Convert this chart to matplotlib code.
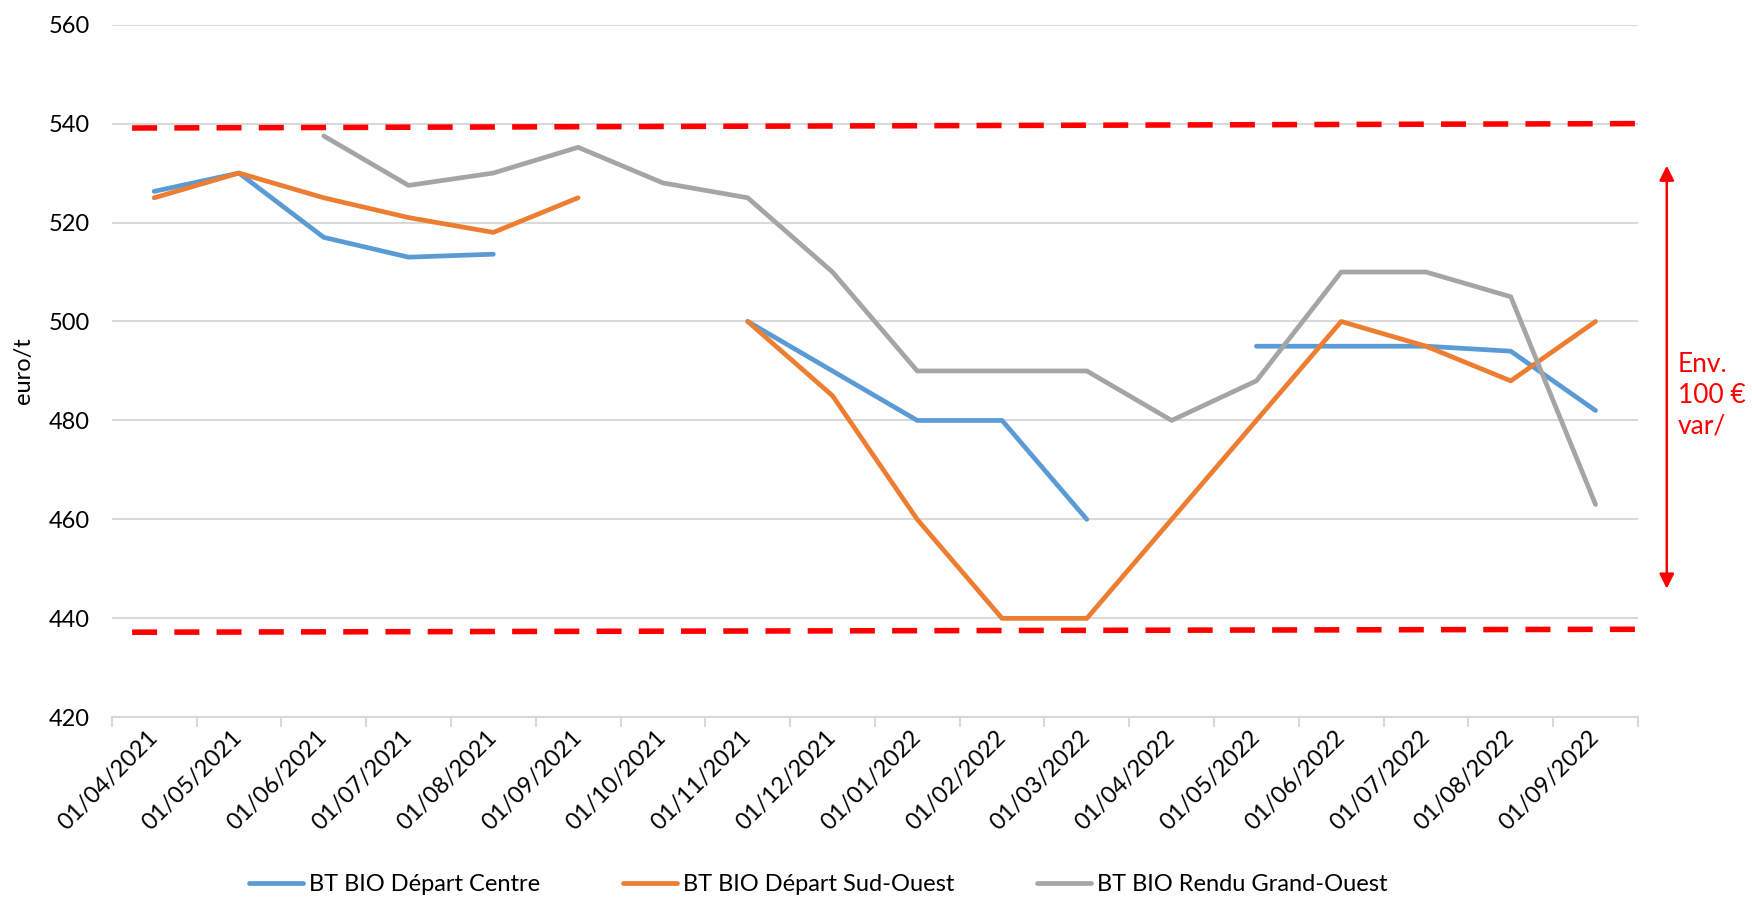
import matplotlib
matplotlib.use('Agg')
import matplotlib.pyplot as plt
import numpy as np

nan = np.nan

months = ['01/04/2021', '01/05/2021', '01/06/2021', '01/07/2021', '01/08/2021', '01/09/2021',
          '01/10/2021', '01/11/2021', '01/12/2021', '01/01/2022', '01/02/2022', '01/03/2022',
          '01/04/2022', '01/05/2022', '01/06/2022', '01/07/2022', '01/08/2022', '01/09/2022']

depart_centre = [526.3, 530, 517, 513, 513.6, nan,
                 nan, 500, 490, 480, 480, 460,
                 nan, 495, 495, 495, 494, 482]
depart_sud_ouest = [525, 530, 525, 521, 518, 525,
                    nan, 500, 485, 460, 440, 440,
                    460, 480, 500, 495, 488, 500]
rendu_grand_ouest = [nan, nan, 537.5, 527.5, 530, 535.2,
                     528, 525, 510, 490, 490, 490,
                     480, 488, 510, 510, 505, 463]

series_names = ['BT BIO Départ Centre', 'BT BIO Départ Sud-Ouest', 'BT BIO Rendu Grand-Ouest']
series_colors = ['#5B9BD5', '#ED7D31', '#A5A5A5']

# red dashed envelope lines (value at left end, value at right end)
band_upper = [539.1, 540.0]
band_lower = [437.2, 437.8]
band_x = [-0.26, 17.63]
arrow_span = [531.5, 446.0]

plt.rcParams['font.family'] = ['Lato', 'DejaVu Sans']
fs = 17

fig = plt.figure(figsize=(17.52, 8.98), dpi=100)
ax = fig.add_axes([0.0638, 0.2012, 0.8711, 0.7714])

x = np.arange(len(months))
for vals, name, col in zip([depart_centre, depart_sud_ouest, rendu_grand_ouest], series_names, series_colors):
    ax.plot(x, vals, color=col, linewidth=3.4, label=name, solid_capstyle='round', solid_joinstyle='round')

for band in (band_upper, band_lower):
    ax.plot(band_x, band, color='#FF0000', linewidth=4, linestyle=(0, (4.5, 3.1)), clip_on=False)

ax.annotate('', xy=(17.84, arrow_span[0]), xytext=(17.84, arrow_span[1]),
            arrowprops=dict(arrowstyle='<|-|>', color='#FF0000', lw=1.8,
                            mutation_scale=22, shrinkA=0, shrinkB=0),
            annotation_clip=False)
ax.text(1.026, 0.465, 'Env.\n100 €\nvar/', transform=ax.transAxes, color='#FF0000',
        fontsize=19, ha='left', va='center', linespacing=1.3)

ax.set_xlim(-0.5, len(months) - 0.5)
ax.set_ylim(420, 560)
ax.set_yticks(np.arange(420, 561, 20))
ax.grid(axis='y', color='#D9D9D9', linewidth=1.5)
ax.set_axisbelow(True)

ax.set_xticks(x)
ax.set_xticklabels(months, rotation=45, ha='right', va='center', rotation_mode='anchor')
ax.set_xticks(np.arange(-0.5, len(months)), minor=True)
ax.tick_params(axis='x', which='major', length=0, pad=12, labelsize=fs)
ax.tick_params(axis='x', which='minor', length=7, width=1.5, color='#D9D9D9')
ax.tick_params(axis='y', length=0, pad=16, labelsize=fs)

for side in ('top', 'right', 'left'):
    ax.spines[side].set_visible(False)
ax.spines['bottom'].set_color('#D9D9D9')
ax.spines['bottom'].set_linewidth(1.5)

ax.set_ylabel('euro/t', fontsize=fs)
ax.yaxis.set_label_coords(-0.051, 0.5)

fig.legend(loc='center', bbox_to_anchor=(0.467, 0.0145), ncol=3, frameon=False,
           fontsize=fs, handlelength=2.3, handletextpad=0.25, columnspacing=3.5)

plt.savefig('out.png', dpi=100)
plt.close()
